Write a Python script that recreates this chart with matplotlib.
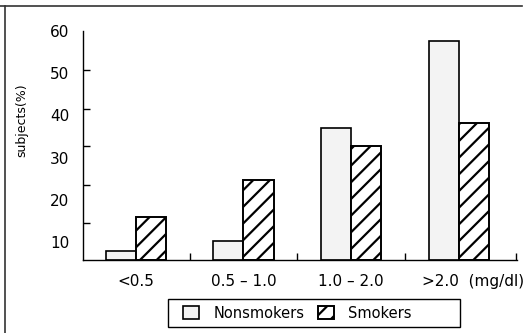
import matplotlib
matplotlib.use('Agg')
import numpy as np
import matplotlib.pyplot as plt
from matplotlib.lines import Line2D
from matplotlib.patches import Rectangle

plt.rcParams['font.family'] = 'DejaVu Sans'
plt.rcParams['hatch.linewidth'] = 1.6

categories = ['<0.5', '0.5 \u2013 1.0', '1.0 \u2013 2.0', '>2.0  (mg/dl)']
nonsmokers = [7.9, 10.3, 37.1, 57.7]
smokers = [15.8, 24.7, 32.7, 38.2]
ytick_labels = [10, 20, 30, 40, 50, 60]

fig = plt.figure(figsize=(5.32, 3.33), dpi=100)
ax = fig.add_axes([0.156, 0.2192, 0.8158, 0.6872])

x = np.arange(len(categories))
w = 0.28
base = 5.7
b1 = ax.bar(x - w / 2, np.array(nonsmokers) - base, w, bottom=base,
            facecolor='#f3f3f3', edgecolor='black', lw=1.2, label='Nonsmokers')
b2 = ax.bar(x + w / 2, np.array(smokers) - base, w, bottom=base,
            facecolor='white', edgecolor='black', lw=1.4, hatch='//', label='Smokers')

ax.set_xlim(-0.49, 3.54)
ax.set_ylim(base, 60)
for s in ['top', 'right']:
    ax.spines[s].set_visible(False)
for s in ['left', 'bottom']:
    ax.spines[s].set_linewidth(1.0)

# y labels (tick marks in the scan sit off the labels)
ax.set_yticks(ytick_labels)
ax.set_yticklabels([str(v) for v in ytick_labels], fontsize=11)
ax.tick_params(axis='y', which='major', length=0, pad=10)
ax.set_yticks([14.5, 23.5, 32.7, 41.5, 50.8, 60], minor=True)
ax.tick_params(axis='y', which='minor', direction='in', length=5, width=1)

# x: tick marks between groups, labels as text
ax.set_xticks([])
ax.set_xticks([0.5, 1.5, 2.5, 3.53], minor=True)
ax.tick_params(axis='x', which='minor', direction='in', length=5, width=1)
for i, lab in enumerate(categories[:3]):
    ax.text(x[i], -0.095, lab, transform=ax.get_xaxis_transform(),
            ha='center', va='center', fontsize=11)
ax.text(x[3] - 0.345, -0.095, categories[3], transform=ax.get_xaxis_transform(),
        ha='left', va='center', fontsize=11)

fig.text(22 / 532, 1 - 120 / 333, 'subjects(%)', rotation=90,
         ha='center', va='center', fontsize=9)

fig.legend(handles=[b1, b2], loc='center left', bbox_to_anchor=(183 / 532, 0.06),
           ncol=2, fontsize=10.5, frameon=False, handlelength=1.1,
           handleheight=0.9, handletextpad=1.0, columnspacing=0.9,
           borderpad=0, borderaxespad=0)
fig.add_artist(Rectangle((168 / 532, 1 - 327 / 333), 292 / 532, 28 / 333,
                         transform=fig.transFigure, fill=False,
                         edgecolor='black', lw=1.0))

# outer frame (top and left only, as scanned)
fig.add_artist(Line2D([0, 522 / 532], [1 - 6 / 333, 1 - 6 / 333],
                      transform=fig.transFigure, color='#333333', lw=1.2))
fig.add_artist(Line2D([5 / 532, 5 / 532], [0, 1 - 6 / 333],
                      transform=fig.transFigure, color='#333333', lw=1.2))

fig.savefig('out.png', dpi=100)
